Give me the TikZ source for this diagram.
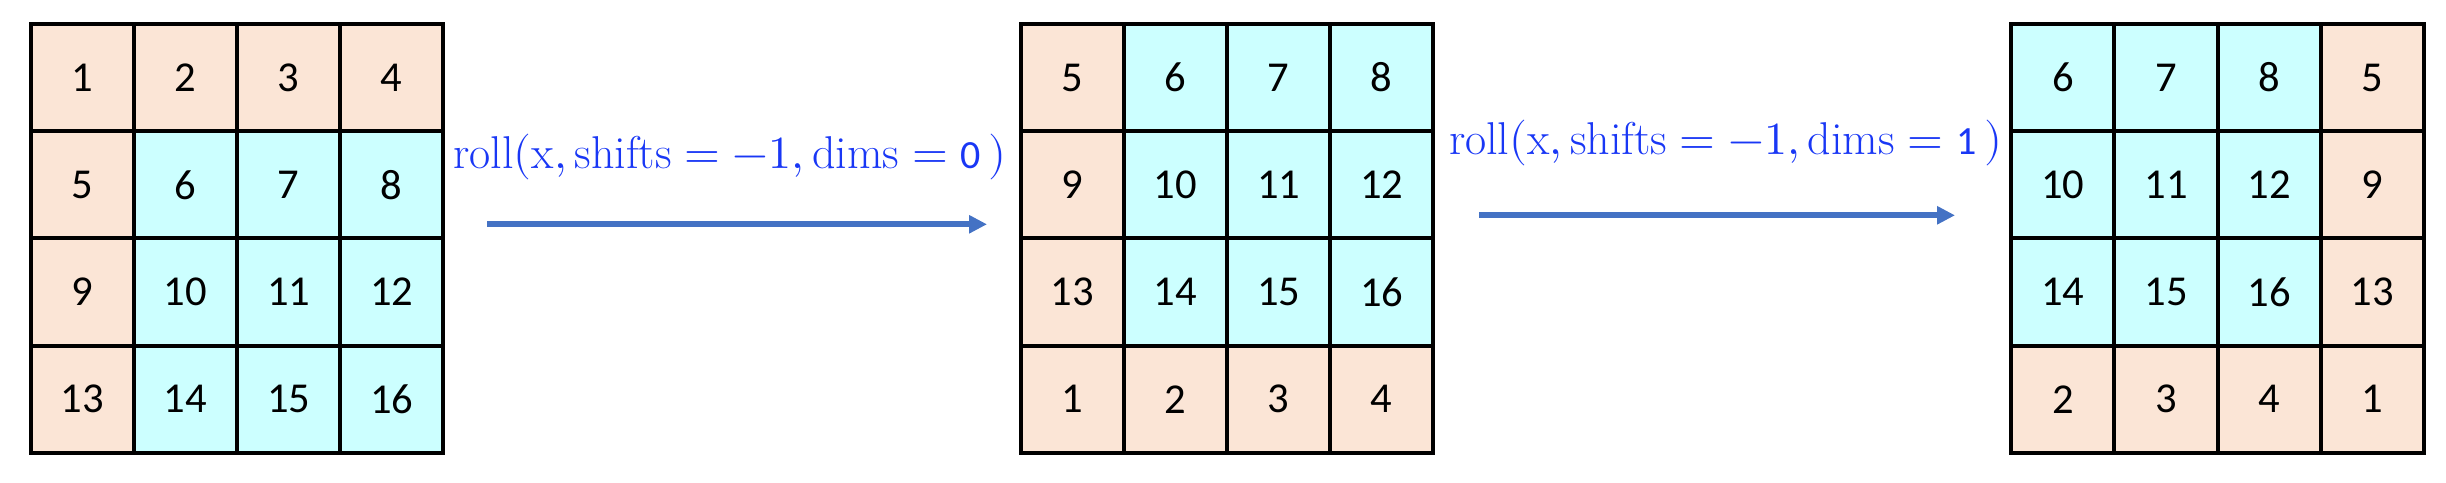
\documentclass[tikz,border=0pt]{standalone}
\usepackage{fontspec}
\usepackage{unicode-math}
\newfontfamily\carlito{Carlito}
\definecolor{rpeach}{RGB}{251,229,214}
\definecolor{rcyan}{RGB}{204,255,255}
\definecolor{rtext}{RGB}{25,55,245}
\definecolor{rarrow}{RGB}{68,114,196}
\usetikzlibrary{arrows.meta,positioning}

\begin{document}
\begin{tikzpicture}[x=0.5pt, y=0.5pt,
  cell/.style={rectangle, draw=black, line width=2pt,
               minimum width=51.6pt, minimum height=53.6pt, inner sep=0pt,
               font=\carlito\fontsize{21.3}{24}\selectfont},
  rlbl/.style={anchor=base, text=rtext, inner sep=0pt,
               font=\fontsize{23}{26}\selectfont},
  rarr/.style={-{Triangle[length=9pt, width=8.7pt]}, line width=3.15pt, draw=rarrow}
]
\useasboundingbox (0,0) rectangle (2446,482);

% Input tensor
\foreach \v/\f [count=\k from 0] in {1/rpeach,2/rpeach,3/rpeach,4/rpeach,
    5/rpeach,6/rcyan,7/rcyan,8/rcyan,9/rpeach,10/rcyan,11/rcyan,12/rcyan,
    13/rpeach,14/rcyan,15/rcyan,16/rcyan}{
  \pgfmathtruncatemacro{\row}{div(\k,4)}
  \pgfmathtruncatemacro{\col}{mod(\k,4)}
  \node[cell, fill=\f] (in\k) at ({82.3+103.15*\col},{404.4-107.2*\row}) {\v};
}

% Rolled along dim 0
\foreach \v/\f [count=\k from 0] in {5/rpeach,6/rcyan,7/rcyan,8/rcyan,
    9/rpeach,10/rcyan,11/rcyan,12/rcyan,13/rpeach,14/rcyan,15/rcyan,16/rcyan,
    1/rpeach,2/rpeach,3/rpeach,4/rpeach}{
  \pgfmathtruncatemacro{\row}{div(\k,4)}
  \pgfmathtruncatemacro{\col}{mod(\k,4)}
  \node[cell, fill=\f] (ra\k) at ({1072.3+103.15*\col},{404.4-107.2*\row}) {\v};
}

% Rolled along dim 1
\foreach \v/\f [count=\k from 0] in {6/rcyan,7/rcyan,8/rcyan,5/rpeach,
    10/rcyan,11/rcyan,12/rcyan,9/rpeach,14/rcyan,15/rcyan,16/rcyan,13/rpeach,
    2/rpeach,3/rpeach,4/rpeach,1/rpeach}{
  \pgfmathtruncatemacro{\row}{div(\k,4)}
  \pgfmathtruncatemacro{\col}{mod(\k,4)}
  \node[cell, fill=\f] (rb\k) at ({2062.9+103.15*\col},{404.4-107.2*\row}) {\v};
}

% Labels
\node[rlbl] (lbl1) at (730,313)
  {$\mathrm{roll}(\mathrm{x},\mathrm{shifts}=-1,\mathrm{dims}=\hbox{\carlito\fontsize{20}{22}\selectfont 0}\,)$};
\node[rlbl] (lbl2) at (1725.5,327)
  {$\mathrm{roll}(\mathrm{x},\mathrm{shifts}=-1,\mathrm{dims}=\hbox{\carlito\fontsize{20}{22}\selectfont 1}\,)$};

% Arrows
\coordinate (a1s) at (487.3,257.7);
\coordinate (a1e) at (987,257.7);
\coordinate (a2s) at (1479.3,266.7);
\coordinate (a2e) at (1955,266.7);
\draw[rarr] (a1s) -- (a1e);
\draw[rarr] (a2s) -- (a2e);
\end{tikzpicture}
\end{document}
